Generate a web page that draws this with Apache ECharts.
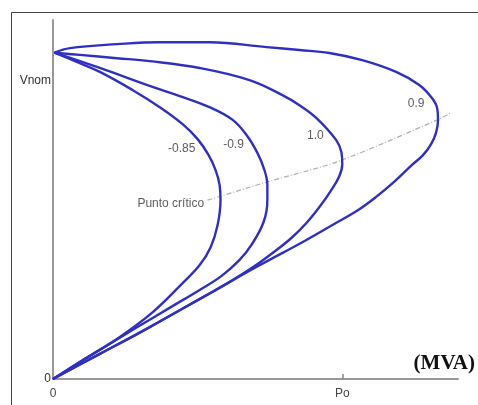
<!DOCTYPE html>
<html>
<head>
<meta charset="utf-8">
<script src="https://cdn.jsdelivr.net/npm/echarts@6/dist/echarts.min.js"></script>
<style>
html,body{margin:0;padding:0;background:#fff;}
#c{width:478px;height:405px;}
</style>
</head>
<body>
<div id="c"></div>
<script>
// Curve names (power factor)
var curveNames = ['-0.85', '-0.9', '1.0', '0.9'];
// PV curves: [P (in Po units), V (in Vnom units)] from origin via nose to Vnom
var curveNeg085 = [[0,0],[0.114,0.064],[0.231,0.129],[0.345,0.205],[0.448,0.294],[0.507,0.349],[0.545,0.404],[0.569,0.472],[0.579,0.548],[0.576,0.594],[0.562,0.640],[0.538,0.686],[0.500,0.735],[0.448,0.781],[0.369,0.833],[0.276,0.885],[0.162,0.941],[0.076,0.974],[0.005,1.0]];
var curveNeg09 = [[0,0],[0.145,0.080],[0.286,0.156],[0.403,0.218],[0.507,0.273],[0.583,0.316],[0.645,0.365],[0.686,0.411],[0.728,0.481],[0.741,0.548],[0.741,0.594],[0.731,0.640],[0.707,0.692],[0.672,0.744],[0.621,0.794],[0.541,0.833],[0.438,0.867],[0.334,0.898],[0.162,0.953],[0.005,1.0]];
var curvePos10 = [[0,0],[0.162,0.077],[0.286,0.135],[0.403,0.193],[0.507,0.245],[0.621,0.303],[0.697,0.346],[0.759,0.386],[0.824,0.432],[0.876,0.478],[0.921,0.527],[0.962,0.579],[0.990,0.622],[1.0,0.659],[0.997,0.695],[0.979,0.732],[0.910,0.800],[0.852,0.839],[0.793,0.870],[0.679,0.916],[0.507,0.953],[0.334,0.974],[0.221,0.983],[0.093,0.993],[0.005,1.0]];
var curvePos09 = [[0,0],[0.162,0.077],[0.334,0.159],[0.531,0.257],[0.703,0.343],[0.876,0.426],[0.972,0.475],[1.055,0.518],[1.117,0.558],[1.179,0.604],[1.241,0.656],[1.279,0.686],[1.307,0.720],[1.324,0.754],[1.331,0.794],[1.328,0.830],[1.310,0.861],[1.266,0.901],[1.186,0.941],[1.069,0.977],[0.955,0.999],[0.852,1.008],[0.738,1.017],[0.541,1.032],[0.369,1.032],[0.221,1.026],[0.059,1.014],[0.005,1.0]];
// Locus of critical points
var criticalLine = [[0.534,0.548],[0.579,0.560],[0.741,0.604],[0.990,0.668],[1.331,0.795],[1.376,0.816]];
// Curve label anchor positions
var curveLabelPos = [[0.445,0.705],[0.624,0.717],[0.907,0.744],[1.255,0.843]];
var criticalLabel = 'Punto crítico';
var criticalLabelPos = [0.407,0.536];
// Tick labels
var xTickValues = [0, 1];
var xTickLabels = ['0', 'Po'];
var yTickValues = [0, 0.913];
var yTickLabels = ['0', 'Vnom'];
var xAxisName = '(MVA)';

var blue = '#3030c0';
var font = 'Liberation Sans, Arial, sans-serif';
var curves = [curveNeg085, curveNeg09, curvePos10, curvePos09];

var series = curves.map(function (d, i) {
  return {
    type: 'line', name: curveNames[i], data: d, smooth: 0.4, symbol: 'none',
    lineStyle: { color: blue, width: 2.4 }, z: 3, silent: true
  };
});
series.push({
  type: 'line', data: criticalLine, smooth: 0.3, symbol: 'none',
  lineStyle: { color: '#b0b0b0', width: 1.2, type: [5, 2, 1, 2] }, z: 2, silent: true
});
series.push({
  type: 'scatter', symbolSize: 0, silent: true, z: 4,
  data: curveLabelPos.map(function (p, i) { return { value: p, name: curveNames[i] }; }),
  label: { show: true, position: 'inside', formatter: '{b}', color: '#333', fontSize: 12, fontFamily: font }
});
series.push({
  type: 'scatter', symbolSize: 0, silent: true, z: 4,
  data: [{ value: criticalLabelPos, name: criticalLabel }],
  label: { show: true, position: 'inside', formatter: '{b}', color: '#333', fontSize: 12, fontFamily: font }
});

var chart = echarts.init(document.getElementById('c'), null, { renderer: 'canvas' });
chart.setOption({
  animation: false,
  backgroundColor: '#fff',
  grid: { left: 53, right: 19, top: 20, bottom: 26 },
  graphic: [{
    type: 'rect', shape: { x: 11.5, y: 12.5, width: 600, height: 600 },
    style: { fill: null, stroke: '#444', lineWidth: 1 }, z: 0, silent: true
  }],
  xAxis: {
    type: 'value', min: 0, max: 1.4,
    name: xAxisName, nameLocation: 'end', nameGap: 17,
    nameTextStyle: { fontFamily: 'Liberation Serif, Times New Roman, serif', fontWeight: 'bold', fontSize: 21, color: '#111', align: 'right', verticalAlign: 'bottom', padding: [0, 0, 5, 0] },
    axisLine: { show: true, lineStyle: { color: '#999', width: 2 } },
    axisTick: { show: true, inside: true, length: 5, customValues: [xTickValues[1]], lineStyle: { color: '#888', width: 1.5 } },
    axisLabel: {
      customValues: xTickValues, margin: 9, color: '#444', fontSize: 12, fontFamily: font,
      formatter: function (v) { var k = xTickValues.indexOf(v); return k >= 0 ? xTickLabels[k] : ''; }
    },
    splitLine: { show: false }
  },
  yAxis: {
    type: 'value', min: 0, max: 1.1,
    axisLine: { show: true, lineStyle: { color: '#999', width: 2 } },
    axisTick: { show: false },
    axisLabel: {
      customValues: yTickValues, margin: 2, color: '#333', fontSize: 12, fontFamily: font,
      formatter: function (v) { var k = yTickValues.indexOf(v); return k >= 0 ? yTickLabels[k] : ''; }
    },
    splitLine: { show: false }
  },
  series: series
});
</script>
</body>
</html>
